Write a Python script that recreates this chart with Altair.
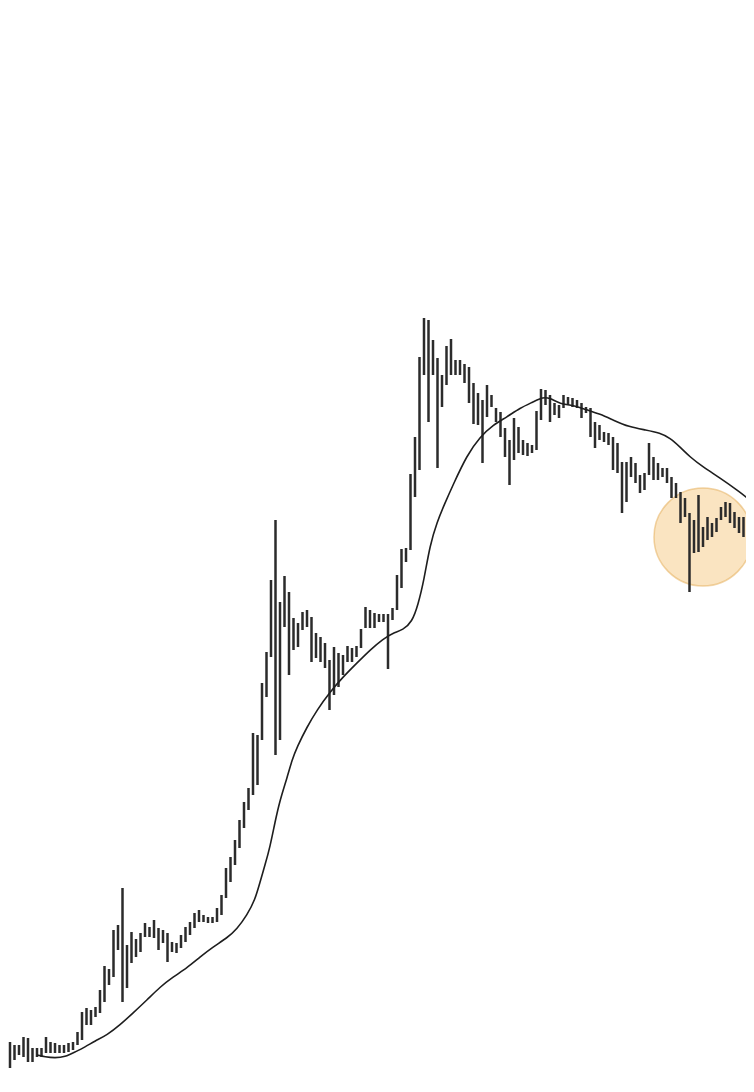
import altair as alt
import pandas as pd

high = [75, 72, 58, 55, 55, 63, 62, 52, 52, 52, 63, 58, 57, 55, 55, 57, 58, 68, 88, 92,
        90, 93, 110, 134, 131, 170, 175, 212, 155, 168, 161, 167, 177, 173, 180, 172, 170, 167, 158, 157,
        165, 173, 178, 187, 190, 185, 183, 183, 192, 205, 232, 243, 260, 280, 298, 312, 367, 365, 417, 448,
        520, 580, 498, 524, 508, 482, 477, 488, 490, 483, 467, 463, 457, 440, 453, 447, 445, 454, 452, 454,
        471, 493, 490, 487, 486, 486, 486, 492, 525, 551, 552, 626, 663, 743, 782, 780, 760, 742, 725, 754,
        761, 740, 740, 736, 733, 717, 707, 700, 715, 705, 692, 688, 672, 660, 682, 673, 660, 657, 655, 689,
        711, 710, 705, 697, 695, 705, 703, 702, 700, 697, 693, 692, 678, 675, 668, 667, 663, 657, 638, 638,
        643, 637, 625, 627, 657, 643, 637, 632, 632, 623, 617, 608, 602, 587, 580, 605, 573, 583, 577, 582,
        593, 598, 597, 588, 583, 583, 570, 568]
low = [57, 27, 32, 40, 45, 43, 38, 38, 43, 43, 47, 47, 47, 47, 47, 48, 50, 55, 60, 75,
       75, 83, 87, 98, 115, 123, 150, 98, 112, 137, 143, 148, 163, 163, 162, 150, 157, 138, 148, 147,
       152, 158, 165, 172, 178, 178, 177, 177, 178, 185, 202, 218, 235, 252, 272, 290, 305, 315, 360, 403,
       443, 345, 360, 473, 425, 450, 453, 470, 473, 438, 442, 438, 432, 390, 405, 413, 425, 438, 438, 443,
       452, 472, 472, 472, 478, 478, 431, 480, 490, 512, 538, 550, 603, 630, 725, 678, 725, 632, 693, 715,
       725, 725, 725, 717, 697, 676, 675, 637, 683, 693, 678, 663, 643, 615, 640, 647, 645, 644, 647, 650,
       680, 695, 678, 685, 682, 692, 695, 693, 692, 682, 687, 663, 652, 660, 658, 655, 630, 627, 587, 598,
       623, 617, 607, 610, 625, 620, 620, 623, 617, 602, 602, 577, 583, 508, 547, 548, 553, 560, 563, 568,
       580, 583, 577, 572, 567, 563, 553, 552]

ma_x = [8.0, 9.78, 12.0, 14.22, 16.44, 18.67, 20.89, 23.56, 26.44, 29.33, 32.44, 35.33, 38.22, 41.33,
        44.22, 47.11, 50.22, 52.44, 54.67, 56.44, 57.56, 58.67, 59.78, 60.89, 62.0, 63.56, 64.67, 65.78,
        68.0, 70.22, 73.11, 76.0, 79.11, 82.0, 84.89, 87.11, 89.33, 91.33, 92.67, 94.0, 95.33, 96.89,
        98.67, 100.44, 103.56, 106.44, 109.33, 112.44, 115.33, 118.22, 120.44, 122.0, 124.22, 127.11,
        130.22, 133.11, 136.0, 139.56, 143.33, 146.44, 148.67, 150.89, 153.11, 156.0, 159.78, 163.56, 167.33]
ma_y = [45, 43, 42, 43, 48, 53, 59, 65, 75, 87, 100, 113, 123, 132,
        143, 153, 162, 171, 185, 200, 218, 235, 253, 278, 300, 322, 340, 353,
        373, 390, 408, 423, 437, 450, 461, 467, 470, 478, 495, 520, 555, 578,
        597, 615, 645, 663, 675, 683, 692, 698, 703, 702, 696, 695,
        690, 686, 680, 673, 670, 667, 662, 653, 643, 633, 622, 610, 597]

hl_x = [156.0]
hl_y = [563]

bars = pd.DataFrame({"i": list(range(len(high))), "high": high, "low": low})
ma = pd.DataFrame({"i": ma_x, "v": ma_y})
hl = pd.DataFrame({"i": hl_x, "v": hl_y})

xs = alt.Scale(domain=[1.5556, 165.5556], nice=False, zero=False)
ys = alt.Scale(domain=[16, 1092], nice=False, zero=False)

circle = alt.Chart(hl).mark_point(
    shape="circle", filled=True, size=9604, fill="#f0b552", fillOpacity=0.36,
    stroke="#e3a94f", strokeOpacity=0.5, strokeWidth=1.5
).encode(
    x=alt.X("i:Q", scale=xs, axis=None),
    y=alt.Y("v:Q", scale=ys, axis=None),
)

rules = alt.Chart(bars).mark_rule(color="#2b2b2b", strokeWidth=2.5, clip=True).encode(
    x=alt.X("i:Q", scale=xs, axis=None),
    y=alt.Y("high:Q", scale=ys, axis=None),
    y2="low:Q",
)

line = alt.Chart(ma).mark_line(color="#1e1e1e", strokeWidth=1.6, interpolate="basis", clip=True).encode(
    x=alt.X("i:Q", scale=xs, axis=None),
    y=alt.Y("v:Q", scale=ys, axis=None),
)

chart = alt.layer(circle, rules, line).properties(
    width=738, height=1076, padding=0,
    autosize=alt.AutoSizeParams(type="none"),
    background="white",
).configure_view(strokeWidth=0)

chart.save("out.html", embed_options={"renderer": "svg", "actions": False})
